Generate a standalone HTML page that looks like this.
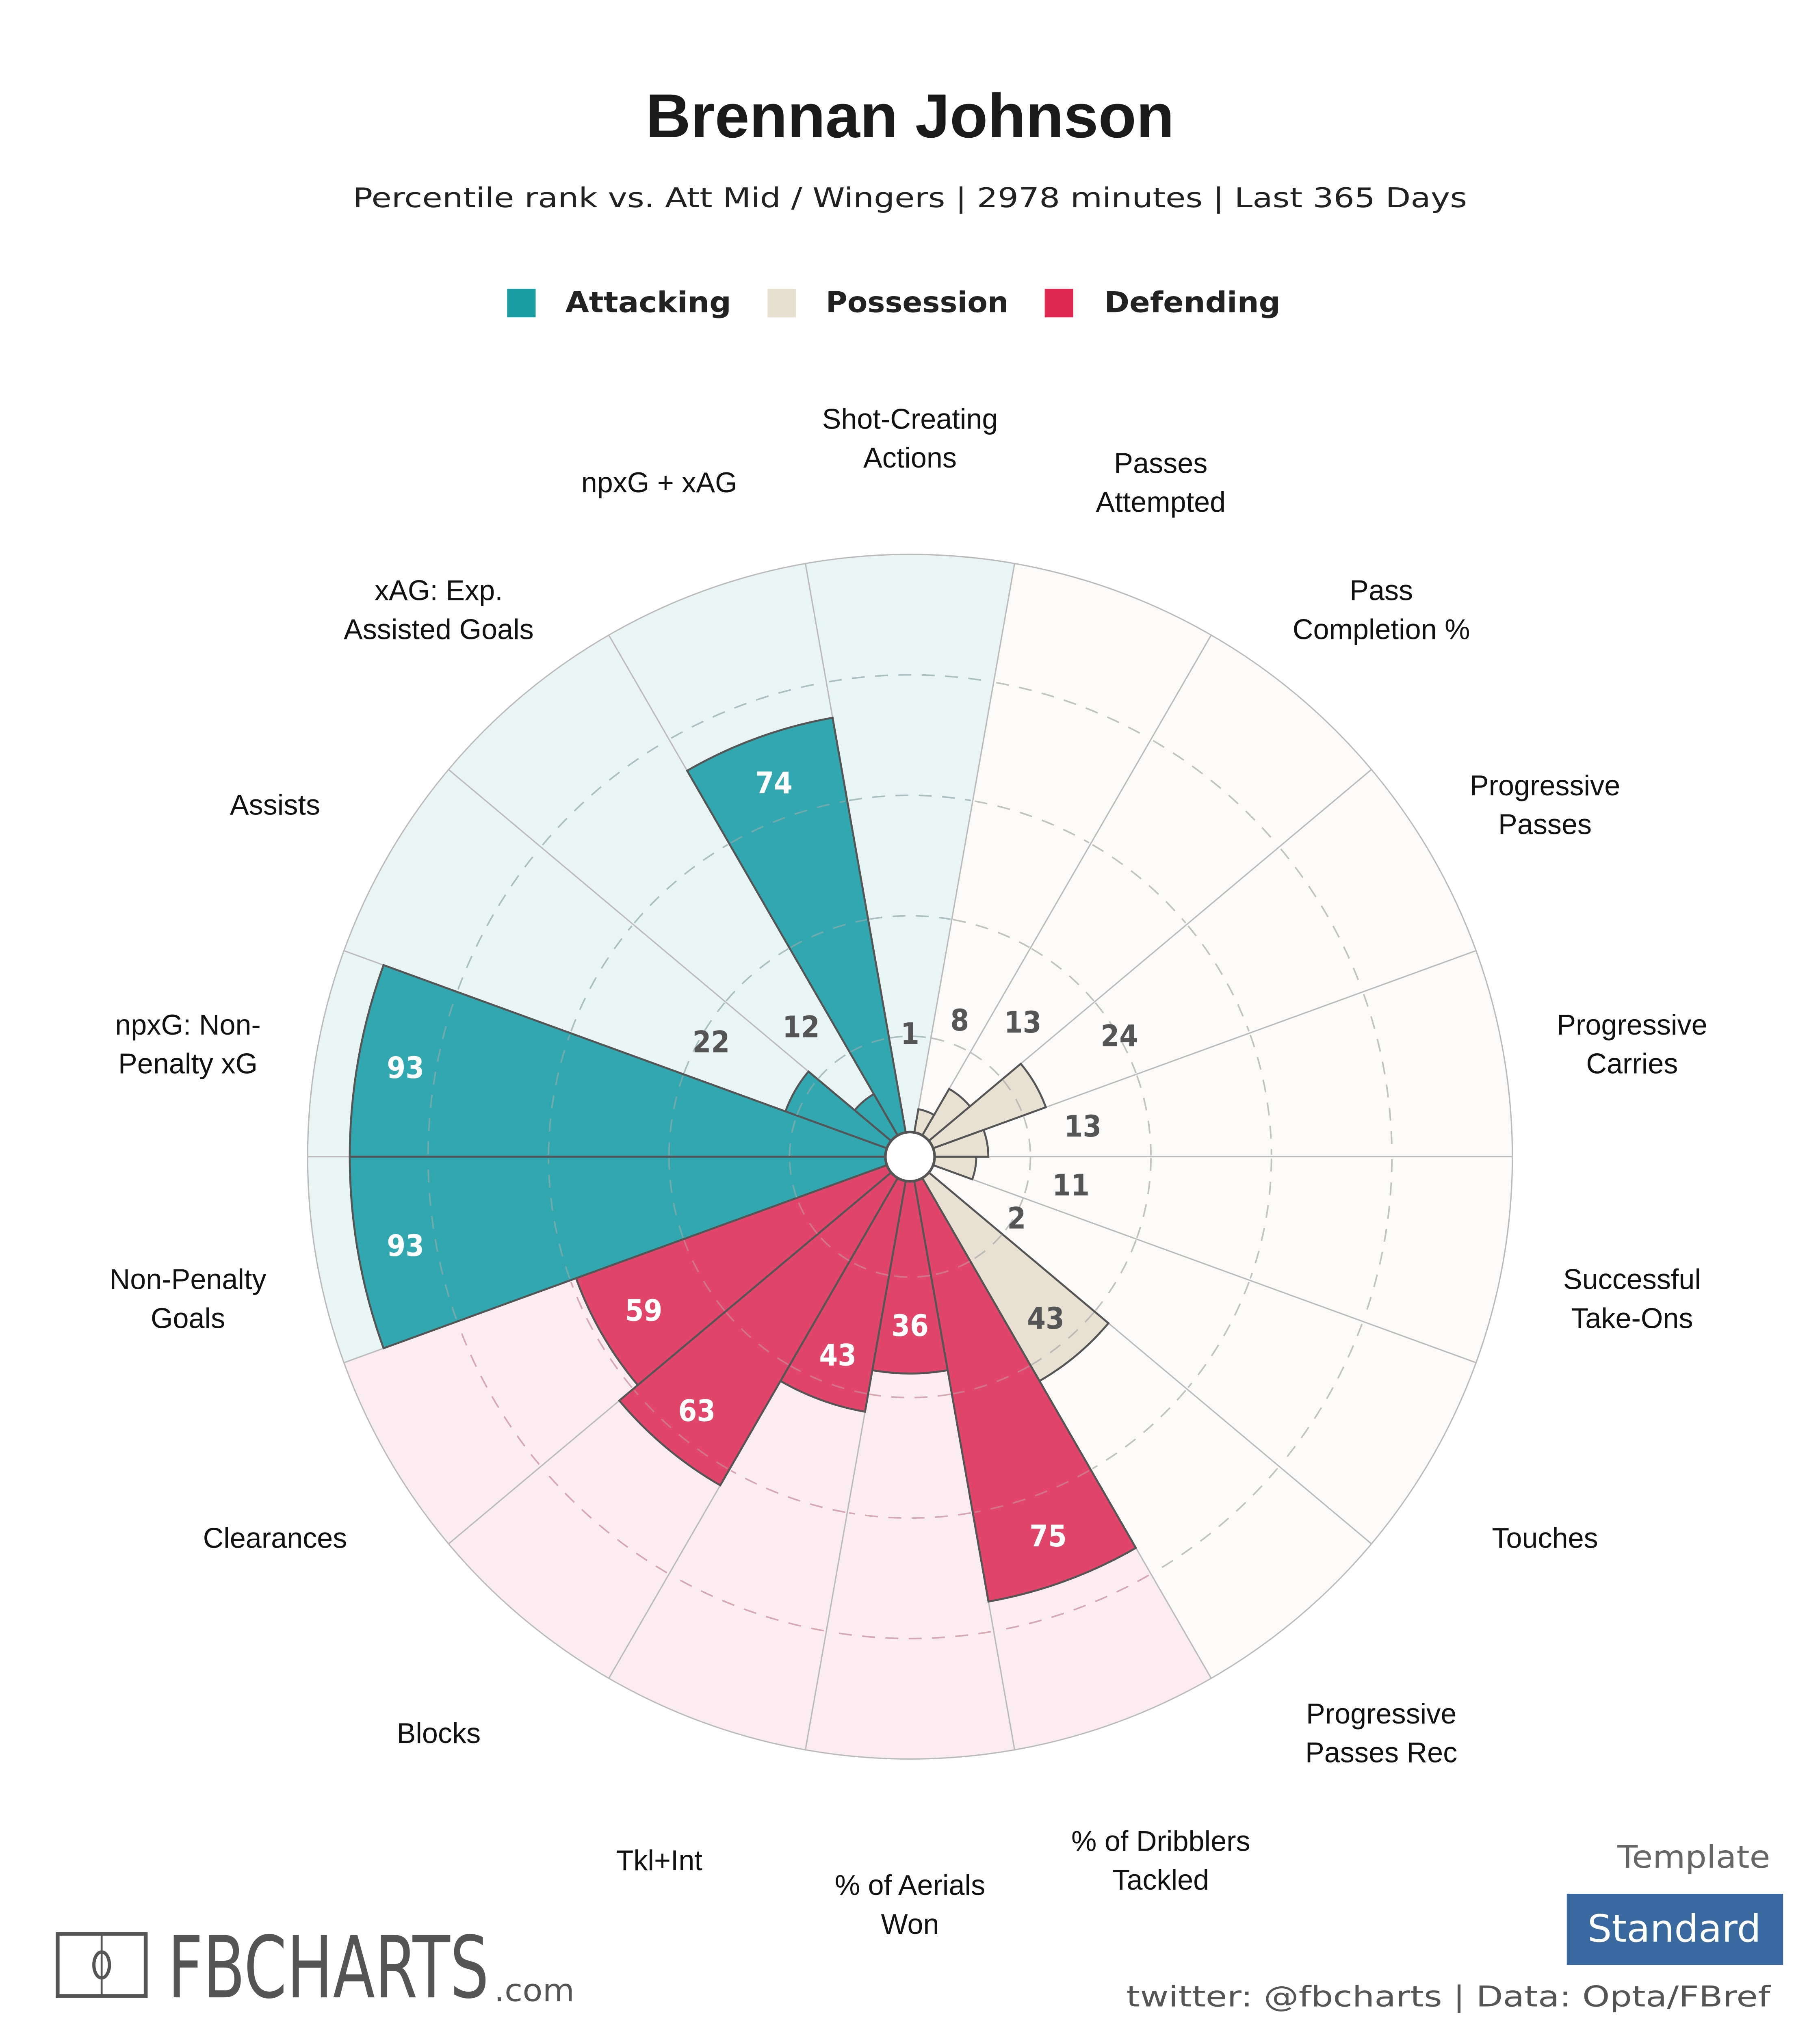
<!DOCTYPE html>
<html><head><meta charset="utf-8"><style>
html,body{margin:0;padding:0;background:#fff;width:100%;height:100%;overflow:hidden;}
svg{display:block;position:fixed;left:0;top:0;width:100vw;height:100vh;}
</style></head><body>
<svg id="chart" xmlns="http://www.w3.org/2000/svg" width="100%" height="100%" viewBox="0 0 1372 1568" preserveAspectRatio="xMidYMid meet">
<rect x="0" y="0" width="1372" height="1568" fill="#fff"/>
<text x="686" y="106" text-anchor="middle" font-family="Liberation Sans, sans-serif" font-weight="bold" font-size="48" fill="#1a1a1a">Brennan Johnson</text>
<text x="686" y="160" text-anchor="middle" font-family="DejaVu Sans, sans-serif" font-size="21" fill="#222" textLength="860" lengthAdjust="spacingAndGlyphs">Percentile rank vs. Att Mid / Wingers | 2978 minutes | Last 365 Days</text>
<g font-family="DejaVu Sans, sans-serif" font-weight="bold" font-size="22" fill="#222">
 <rect x="375" y="223" width="22" height="22" fill="#1a9ba1"/>
 <text x="420" y="241" textLength="128" lengthAdjust="spacingAndGlyphs">Attacking</text>
 <rect x="576" y="223" width="22" height="22" fill="#e8e0cf"/>
 <text x="621" y="241" textLength="141" lengthAdjust="spacingAndGlyphs">Possession</text>
 <rect x="790" y="223" width="22" height="22" fill="#e0274f"/>
 <text x="836" y="241" textLength="136" lengthAdjust="spacingAndGlyphs">Defending</text>
</g>
<g id="bg"></g><g id="bars"></g><g id="grid"></g><g id="labels"></g>
<circle cx="686" cy="893" r="19" fill="#fff" stroke="#555" stroke-width="2"/>
<g>
 <rect x="28" y="1493" width="68" height="48" fill="none" stroke="#555" stroke-width="3"/>
 <line x1="62" y1="1493" x2="62" y2="1541" stroke="#555" stroke-width="1.5"/>
 <ellipse cx="62" cy="1517" rx="6" ry="10" fill="none" stroke="#555" stroke-width="2.5"/>
 <text x="113" y="1542" font-family="DejaVu Sans Condensed, DejaVu Sans, sans-serif" font-size="66" fill="#555" textLength="248" lengthAdjust="spacingAndGlyphs">FBCHARTS</text>
 <text x="365" y="1545" font-family="DejaVu Sans, sans-serif" font-size="24" fill="#555" textLength="62" lengthAdjust="spacingAndGlyphs">.com</text>
</g>
<text x="1350" y="1442" text-anchor="end" font-family="DejaVu Sans, sans-serif" font-size="24" fill="#666" textLength="118" lengthAdjust="spacingAndGlyphs">Template</text>
<rect x="1193" y="1462" width="167" height="55" fill="#3a69a0"/>
<text x="1276" y="1499" text-anchor="middle" font-family="DejaVu Sans, sans-serif" font-size="29" fill="#fff" textLength="134" lengthAdjust="spacingAndGlyphs">Standard</text>
<text x="1350" y="1549" text-anchor="end" font-family="DejaVu Sans, sans-serif" font-size="22" fill="#555" textLength="497" lengthAdjust="spacingAndGlyphs">twitter: @fbcharts | Data: Opta/FBref</text>
</svg>
<script>
const categories = [["Shot-Creating","Actions"],["Passes","Attempted"],["Pass","Completion %"],["Progressive","Passes"],["Progressive","Carries"],["Successful","Take-Ons"],["Touches"],["Progressive","Passes Rec"],["% of Dribblers","Tackled"],["% of Aerials","Won"],["Tkl+Int"],["Blocks"],["Clearances"],["Non-Penalty","Goals"],["npxG: Non-","Penalty xG"],["Assists"],["xAG: Exp.","Assisted Goals"],["npxG + xAG"]];
const values = [1,8,13,24,13,11,2,43,75,36,43,63,59,93,93,22,12,74];
const groups = ["att","pos","pos","pos","pos","pos","pos","pos","def","def","def","def","def","att","att","att","att","att"];
const gridTicks = [20,40,60,80];

const NS="http://www.w3.org/2000/svg", CX=686, CY=893, RMAX=465;
const barFill={att:"#31a8af",pos:"#e8e1d1",def:"#e1466a"};
const bgFill={att:"#e9f5f5",pos:"#fbfaf8",def:"#faecf0"};
const gridCol={att:"#8fa9aa",pos:"#aaa",def:"#c98a9a"};
function rScale(p){return p/100*RMAX;}
function pt(r,a){const t=a*Math.PI/180;return [CX+r*Math.sin(t),CY-r*Math.cos(t)];}
function wedge(r,a0,a1){const p0=pt(r,a0),p1=pt(r,a1);return `M${CX},${CY}L${p0[0]},${p0[1]}A${r},${r} 0 0 1 ${p1[0]},${p1[1]}Z`;}
function mk(tag,attrs,parent){const e=document.createElementNS(NS,tag);for(const k in attrs)e.setAttribute(k,attrs[k]);parent.appendChild(e);return e;}
const n=categories.length, step=360/n;
const bg=document.getElementById('bg'),bars=document.getElementById('bars'),grid=document.getElementById('grid'),labels=document.getElementById('labels');
for(let i=0;i<n;i++){
  const a0=i*step-step/2,a1=i*step+step/2,g=groups[i];
  const s=mk('path',{d:wedge(RMAX,a0,a1),fill:bgFill[g],stroke:"#bbb","stroke-width":1},bg);
  
  
  const b=mk('path',{d:wedge(rScale(values[i]),a0,a1),fill:barFill[g],stroke:"#555","stroke-width":1.5},bars);
  
  
  for(const t of gridTicks){
    const r=rScale(t),p0=pt(r,a0+0.3),p1=pt(r,a1-0.3);
    const c=mk('path',{d:`M${p0[0]},${p0[1]}A${r},${r} 0 0 1 ${p1[0]},${p1[1]}`,fill:"none",stroke:gridCol[g],"stroke-width":1.2,"stroke-dasharray":"10 8","stroke-opacity":0.7},grid);
    
    
  }
  const v=values[i],rb=rScale(v),inside=v>=30;
  const rl=inside?rb-37:Math.max(95,rb+75);
  const lp=pt(rl,i*step);
  const col=(inside&&g!=="pos")?"#fff":"#555";
  const vt=mk('text',{x:lp[0],y:lp[1]+8,"text-anchor":"middle","font-family":"DejaVu Sans Condensed, DejaVu Sans, sans-serif","font-weight":"bold","font-size":23,fill:col},labels);
  vt.textContent=v;
  
  
  const cp=pt(566,i*step);const lines=categories[i];
  const ct=mk('text',{"text-anchor":"middle","font-family":"Liberation Sans, sans-serif","font-size":22,fill:"#111"},labels);
  
  
  lines.forEach((ln,k)=>{const ts=mk('tspan',{x:cp[0],y:cp[1]+11+8+(k-(lines.length-1)/2)*30},ct);ts.textContent=ln;});
}
</script>
</body></html>
